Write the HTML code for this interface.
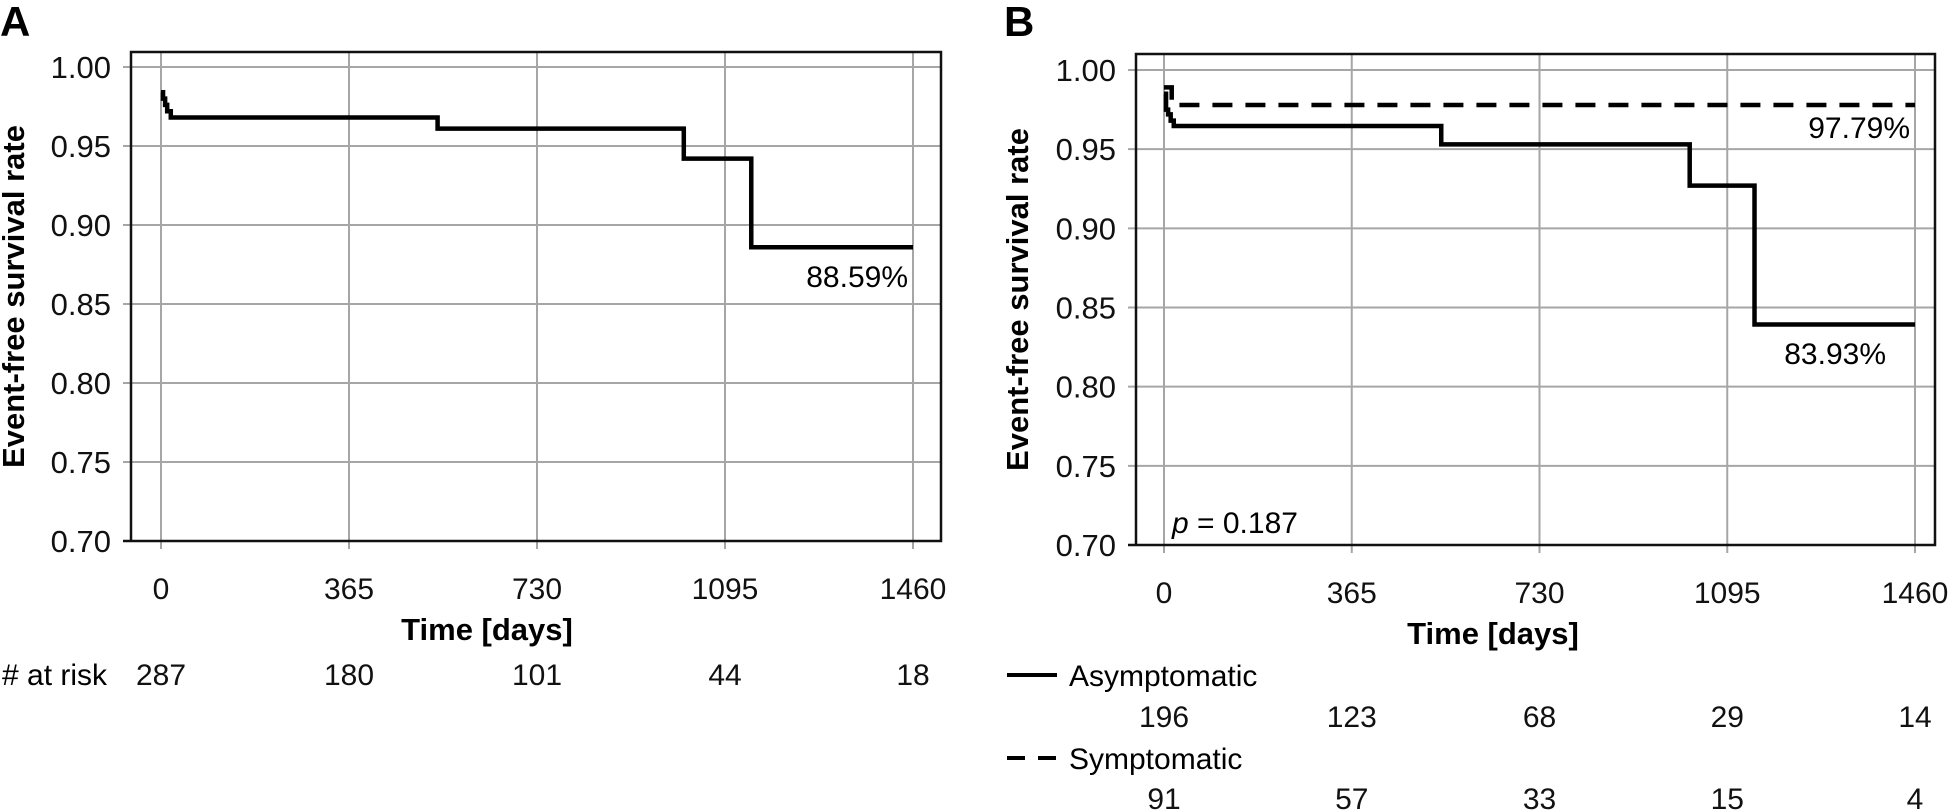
<!DOCTYPE html>
<html><head><meta charset="utf-8"><style>
html,body{margin:0;padding:0;background:#fff}
svg{display:block;font-family:"Liberation Sans","DejaVu Sans",sans-serif}
</style></head><body>
<svg id="chart" width="1954" height="811" viewBox="0 0 1954 811" xmlns="http://www.w3.org/2000/svg"></svg>
<script>
const xTicks=[0,365,730,1095,1460];
const yTicks=[0.70,0.75,0.80,0.85,0.90,0.95,1.00];
const aTimes=[0,4,8,12,19,537,1015,1146,1460];
const aSurv=[0.984,0.980,0.976,0.972,0.968,0.961,0.942,0.8859,0.8859];
const bAsymTimes=[0,4,8,13,19,539,1022,1148,1460];
const bAsymSurv=[0.985,0.975,0.972,0.968,0.9646,0.953,0.927,0.8393,0.8393];
const bSymTimes=[0,15,1460];
const bSymSurv=[0.989,0.9779,0.9779];
const riskA=[287,180,101,44,18];
const riskAsym=[196,123,68,29,14];
const riskSym=[91,57,33,15,4];
const NS="http://www.w3.org/2000/svg";
const svg=document.getElementById('chart');
function mk(tag,attrs,parent,text){const e=document.createElementNS(NS,tag);for(const k in attrs)e.setAttribute(k,attrs[k]);if(text!==undefined)e.textContent=text;(parent||svg).appendChild(e);return e;}
function panel(p){
  const g=mk('g',{});
  
  
  const sx=t=>p.x0+(t/1460)*(p.x1-p.x0);
  const sy=v=>p.y1+(1-v)/0.30*(p.y70-p.y1);
  xTicks.forEach(t=>{const l=mk('line',{x1:sx(t),x2:sx(t),y1:p.top,y2:p.bottom+8,stroke:'#a6a6a6','stroke-width':2},g);
    
    const tx=mk('text',{x:sx(t),y:p.bottom+58,'font-size':30,'text-anchor':'middle',fill:'#111'},g,String(t));
    });
  yTicks.forEach(v=>{const l=mk('line',{x1:p.left-8,x2:p.right,y1:sy(v),y2:sy(v),stroke:'#a6a6a6','stroke-width':2},g);
    
    const tx=mk('text',{x:p.left-20,y:sy(v)+11,'font-size':31,'text-anchor':'end',fill:'#111'},g,v.toFixed(2));
    });
  const fr=mk('path',{d:`M${p.left},${p.bottom} V${p.top} H${p.right} V${p.bottom} H${p.left-8}`,fill:'none',stroke:'#111','stroke-width':2.5},g);
  
  p.series.forEach(s=>{let d=`M${sx(s.t[0])},${sy(s.v[0])}`;
    for(let i=1;i<s.t.length;i++){d+=` H${sx(s.t[i])} V${sy(s.v[i])}`;}
    const pa=mk('path',{d:d,fill:'none',stroke:'#000','stroke-width':4.5,'stroke-dasharray':s.dash||'none'},g);
    });
  const yt=mk('text',{x:0,y:0,'font-size':31,'font-weight':'bold','text-anchor':'middle',transform:`translate(${p.ytx},${(p.top+p.bottom)/2}) rotate(-90)`},g,'Event-free survival rate');
  
  const xt=mk('text',{x:p.xtc,y:p.bottom+99,'font-size':31,'font-weight':'bold','text-anchor':'middle'},g,'Time [days]');
  
  const lb=mk('text',{x:p.labx,y:36,'font-size':42,'font-weight':'bold'},g,p.label);
  
  p.risks.forEach(r=>{r.vals.forEach((v,i)=>{const tx=mk('text',{x:sx(xTicks[i]),y:r.y,'font-size':30,'text-anchor':'middle',fill:'#111'},g,String(v));
    });});
  return {g,sx,sy};
}
const A=panel({name:'panel-a',label:'A',labx:0,left:131,right:941,top:52,bottom:541,x0:161,x1:913,y1:67,y70:541,ytx:24,xtc:487,
  series:[{name:'survival-curve',t:aTimes,v:aSurv}],risks:[{y:685,vals:riskA}]});
const B=panel({name:'panel-b',label:'B',labx:1004,left:1136,right:1935,top:54,bottom:545,x0:1164,x1:1915,y1:70,y70:545,ytx:1028,xtc:1493,
  series:[{name:'symptomatic-curve',t:bSymTimes,v:bSymSurv,dash:'20 13'},{name:'asymptomatic-curve',t:bAsymTimes,v:bAsymSurv}],
  risks:[{y:727,vals:riskAsym},{y:809,vals:riskSym}]});
function txt(name,attrs,s,html){const e=mk('text',attrs,svg);if(html)e.innerHTML=html;else e.textContent=s;return e;}
txt('final-value-label-a',{x:908,y:287,'font-size':30,'text-anchor':'end'},'88.59%');
txt('final-value-label-symptomatic',{x:1910,y:138,'font-size':30,'text-anchor':'end'},'97.79%');
txt('final-value-label-asymptomatic',{x:1886,y:364,'font-size':30,'text-anchor':'end'},'83.93%');
txt('p-value',{x:1172,y:533,'font-size':30},'',"<tspan font-style='italic'>p</tspan> = 0.187");
txt('at-risk-label',{x:2,y:685,'font-size':30},'# at risk');
const l1=mk('line',{x1:1007,x2:1057,y1:675,y2:675,stroke:'#000','stroke-width':4});

txt('legend-asymptomatic',{x:1069,y:686,'font-size':30},'Asymptomatic');
const l2=mk('line',{x1:1007,x2:1057,y1:758,y2:758,stroke:'#000','stroke-width':4,'stroke-dasharray':'18 13'});

txt('legend-symptomatic',{x:1069,y:769,'font-size':30},'Symptomatic');
</script>
</body></html>
